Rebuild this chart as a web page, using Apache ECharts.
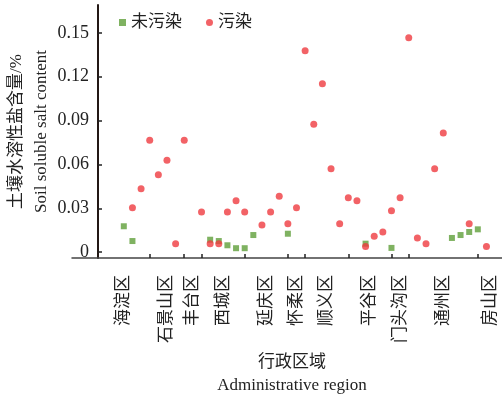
<!DOCTYPE html>
<html><head><meta charset="utf-8">
<script src="https://cdn.jsdelivr.net/npm/echarts@6/dist/echarts.min.js"></script>
<style>html,body{margin:0;padding:0;background:#fff}#c{width:502px;height:394px}</style>
</head><body><div id="c"></div>
<script>
// sample index along the x axis (group boundaries in the same units)
const regions = ['海淀区','石景山区','丰台区','西城区','延庆区','怀柔区','顺义区','平谷区','门头沟区','通州区','房山区'];
const groupBounds = [0,6,10,12,17,22,24,29,34,36,44,47];
const yTicks = [0,0.03,0.06,0.09,0.12,0.15];

const sampleIdxClean = [3,4,13,14,15,16,17,18,22,31,34,41,42,43,44];
const saltClean = [0.0177,0.0076,0.0085,0.0076,0.0047,0.0027,0.0027,0.0117,0.0126,0.0058,0.0029,0.0097,0.0117,0.0138,0.0156];

const sampleIdxPolluted = [4,5,6,7,8,9,10,12,13,14,15,16,17,19,20,21,22,23,24,25,26,27,28,29,30,31,32,33,34,35,36,37,38,39,40,43,45];
const saltPolluted = [0.0304,0.0433,0.0765,0.0529,0.0629,0.0058,0.0765,0.0274,0.0058,0.0058,0.0274,0.0351,0.0274,0.0186,0.0274,0.0383,0.0194,0.0304,0.1377,0.0874,0.1152,0.0570,0.0194,0.0372,0.0351,0.0038,0.0108,0.0138,0.0283,0.0372,0.1466,0.0097,0.0058,0.0570,0.0815,0.0194,0.0038];

const tickVals = groupBounds.slice(1, -1);
const labelVals = regions.map((r, i) => (groupBounds[i] + groupBounds[i + 1]) / 2);
const fontFam = '"Liberation Serif","Noto Sans CJK SC",serif';
const txt = '#222';

const chart = echarts.init(document.getElementById('c'), null, {renderer: 'canvas'});
chart.setOption({
  animation: false,
  backgroundColor: '#fff',
  textStyle: {fontFamily: fontFam},
  legend: {
    left: 114, top: 9, itemWidth: 7, itemHeight: 7, itemGap: 24,
    textStyle: {fontSize: 17, color: txt, fontFamily: fontFam},
    data: [{name: '未污染', icon: 'rect'}, {name: '污染', icon: 'circle'}]
  },
  grid: {left: 72, right: 0, top: 5, bottom: 136, outerBoundsMode: 'none', containLabel: false},
  xAxis: {
    type: 'value', min: -3, max: 46.8,
    splitLine: {show: false},
    axisLine: {onZero: false, lineStyle: {color: '#444', width: 1.5}},
    axisTick: {inside: true, length: 4, customValues: tickVals, lineStyle: {color: '#222', width: 1.5}},
    axisLabel: {
      customValues: labelVals, rotate: 90, margin: 17, fontSize: 17, color: txt, fontFamily: fontFam,
      formatter: v => { const i = labelVals.findIndex(x => Math.abs(x - v) < 1e-6); return i >= 0 ? regions[i] : ''; }
    },
    name: '行政区域\nAdministrative region', nameLocation: 'middle', nameGap: 93, nameMoveOverlap: false,
    nameTextStyle: {fontSize: 17, color: txt, fontFamily: fontFam, lineHeight: 23, padding: [0, 0, 0, 10]}
  },
  yAxis: {
    type: 'value', min: -0.004, max: 0.169, offset: -26,
    splitLine: {show: false},
    axisLine: {onZero: false, lineStyle: {color: '#231815', width: 2}},
    axisTick: {inside: true, length: 4, customValues: yTicks, lineStyle: {color: '#222', width: 1.5}},
    axisLabel: {
      customValues: yTicks, margin: 9, fontSize: 18, color: txt, fontFamily: fontFam,
      formatter: v => v === 0 ? '0' : v.toFixed(2)
    },
    name: '土壤水溶性盐含量/%\nSoil soluble salt content', nameLocation: 'middle', nameGap: 44, nameMoveOverlap: false,
    nameTextStyle: {fontSize: 17, color: txt, fontFamily: fontFam, lineHeight: 25}
  },
  series: [
    {name: '未污染', type: 'scatter', symbol: 'rect', symbolSize: 6,
     itemStyle: {color: '#5f9f3a'},
     data: sampleIdxClean.map((x, i) => [x, saltClean[i]])},
    {name: '污染', type: 'scatter', symbol: 'circle', symbolSize: 7,
     itemStyle: {color: '#ef3b40'},
     data: sampleIdxPolluted.map((x, i) => [x, saltPolluted[i]])}
  ]
});
</script></body></html>
